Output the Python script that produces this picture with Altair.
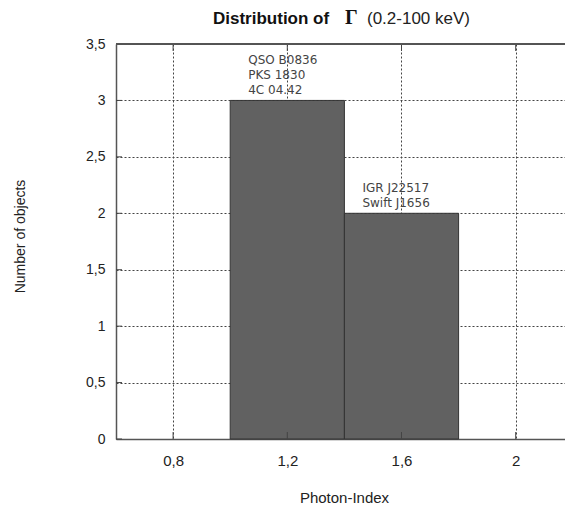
import altair as alt
import pandas as pd

# Histogram data
bin_start = [1.0, 1.4]
bin_end = [1.4, 1.8]
counts = [3, 2]
objects = [["QSO B0836", "PKS 1830", "4C 04.42"], ["IGR J22517", "Swift J1656"]]

x_ticks = [0.8, 1.2, 1.6, 2.0]
y_ticks = [0, 0.5, 1, 1.5, 2, 2.5, 3, 3.5]

title_bold = "Distribution of"
title_symbol = "Γ"
title_rest = "(0.2-100 keV)"
x_title = "Photon-Index"
y_title = "Number of objects"

df = pd.DataFrame({"start": bin_start, "end": bin_end, "count": counts})
rows = []
for s, c, lines in zip(bin_start, counts, objects):
    n = len(lines)
    for j, line in enumerate(lines):
        rows.append({"start": s, "count": c, "line": line, "k": n - 1 - j})
ann_df = pd.DataFrame(rows)
xt = pd.DataFrame({"v": x_ticks})
yt = pd.DataFrame({"v": y_ticks})

W, H = 449, 395
LAB = "replace(format(datum.value, ''), '.', ',')"

xscale = alt.Scale(domain=[0.6, 2.1727], nice=False, zero=False)
yscale = alt.Scale(domain=[0, 3.5], nice=False)

xaxis = alt.Axis(values=x_ticks, labelExpr=LAB, grid=True, gridDash=[2, 2], gridColor="#444",
                 gridWidth=1, ticks=False, domainColor="#555", domainWidth=1.5,
                 labelFontSize=15, labelPadding=14, labelColor="#222", labelFont="Liberation Sans",
                 title=x_title, titleFontSize=15, titleFont="Liberation Sans", titleFontWeight="normal",
                 titleColor="#222", titleX=228, titleY=63, titleBaseline="alphabetic", titleAlign="center")
yaxis = alt.Axis(values=y_ticks, labelExpr=LAB, grid=True, gridDash=[2, 2], gridColor="#444",
                 gridWidth=1, ticks=False, domainColor="#555", domainWidth=1.5,
                 labelFontSize=14, labelPadding=11, labelColor="#222", labelFont="Liberation Sans",
                 title=y_title, titleFontSize=14, titleFont="Liberation Sans", titleFontWeight="normal",
                 titleColor="#222", titleX=-96, titleY=192, titleAngle=270, titleAlign="center",
                 titleBaseline="middle")

bars = alt.Chart(df).mark_rect(fill="#616161", stroke="#333", strokeWidth=1).encode(
    x=alt.X("start:Q", scale=xscale, axis=xaxis),
    x2="end:Q",
    y=alt.Y("count:Q", scale=yscale, axis=yaxis),
    y2=alt.datum(0),
)

ann_layers = []
for k in range(3):
    ann_layers.append(
        alt.Chart(ann_df).transform_filter(alt.datum.k == k).mark_text(
            align="left", baseline="alphabetic", dx=18, dy=-6 - 15 * k,
            font="DejaVu Sans", fontSize=12, color="#444").encode(
            x="start:Q", y="count:Q", text="line:N")
    )

tick_bottom = alt.Chart(xt).mark_rule(color="#444", strokeWidth=1).encode(
    x="v:Q", y=alt.value(H), y2=alt.value(H - 7))
tick_top = alt.Chart(xt).mark_rule(color="#444", strokeWidth=1).encode(
    x="v:Q", y=alt.value(0), y2=alt.value(7))
tick_left = alt.Chart(yt).mark_rule(color="#444", strokeWidth=1).encode(
    y="v:Q", x=alt.value(0), x2=alt.value(6))
top_border = alt.Chart(xt).mark_rule(color="#555", strokeWidth=1.5).encode(
    x=alt.value(0), x2=alt.value(W), y=alt.value(0))

one = alt.InlineData(values=[{"a": 1}])
t1 = alt.Chart(one).mark_text(text=title_bold, font="Liberation Sans", fontWeight="bold", fontSize=17,
                              align="left", baseline="alphabetic", color="#111").encode(
    x=alt.value(97), y=alt.value(-20))
t2 = alt.Chart(one).mark_text(text=title_symbol, font="Liberation Serif", fontWeight="bold", fontSize=20,
                              align="left", baseline="alphabetic", color="#111").encode(
    x=alt.value(229), y=alt.value(-20))
t3 = alt.Chart(one).mark_text(text=title_rest, font="Liberation Sans", fontSize=17,
                              align="left", baseline="alphabetic", color="#222").encode(
    x=alt.value(251), y=alt.value(-20))

chart = alt.layer(bars, tick_bottom, tick_top, tick_left, top_border, *ann_layers, t1, t2, t3).properties(
    width=W, height=H, autosize=alt.AutoSizeParams(type="none"),
    padding={"left": 116, "top": 44, "right": 0, "bottom": 68},
    background="white",
).configure_view(stroke=None)

chart.save("out.html", embed_options={"renderer": "svg", "actions": False})
